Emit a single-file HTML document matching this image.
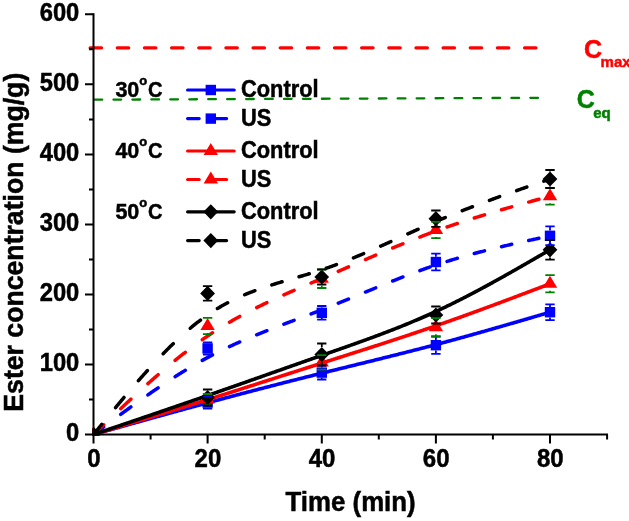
<!DOCTYPE html>
<html><head><meta charset="utf-8"><style>
html,body{margin:0;padding:0;background:#fff;}
svg{display:block;will-change:transform;}
text{font-family:"Liberation Sans",sans-serif;font-weight:bold;fill:#000;stroke:#000;stroke-width:0.5px;}
.tl{font-size:25px;}
.tt{font-size:26px;}
.lg{font-size:22px;}
.deg{font-size:13px;}
.cl{font-size:25px;}
.sub{font-size:15px;}
</style></head><body>
<svg width="629" height="521" viewBox="0 0 629 521">
<line x1="88.6" y1="47.8" x2="537" y2="47.8" stroke="#FF0000" stroke-width="3.2" stroke-linecap="round" stroke-dasharray="11.5 15.65" transform="translate(1.5 0)"/>
<line x1="94.5" y1="99.7" x2="539" y2="97.8" stroke="#008000" stroke-width="2.3" stroke-linecap="round" stroke-dasharray="7.7 11.25"/>
<path d="M93.5,13.3 V435.5 M92.5,434.5 H608" stroke="#000" stroke-width="2" fill="none"/>
<path d="M85.0,434.5 H93.5 M89.0,399.5 H93.5 M85.0,364.5 H93.5 M89.0,329.4 H93.5 M85.0,294.4 H93.5 M89.0,259.4 H93.5 M85.0,224.4 H93.5 M89.0,189.4 H93.5 M85.0,154.4 H93.5 M89.0,119.4 H93.5 M85.0,84.3 H93.5 M89.0,49.3 H93.5 M85.0,14.3 H93.5 M93.5,434.5 V443.5 M150.6,434.5 V439.5 M207.6,434.5 V443.5 M264.7,434.5 V439.5 M321.8,434.5 V443.5 M378.8,434.5 V439.5 M435.9,434.5 V443.5 M492.9,434.5 V439.5 M550.0,434.5 V443.5 M607.1,434.5 V439.5" stroke="#000" stroke-width="2" fill="none"/>
<defs><clipPath id="fr"><rect x="92.5" y="0" width="530" height="435.5"/></clipPath></defs>
<g clip-path="url(#fr)">
<path d="M93.50,434.50 L94.64,434.18 L95.79,433.86 L96.93,433.53 L98.08,433.21 L99.22,432.89 L100.36,432.57 L101.51,432.25 L102.65,431.92 L103.80,431.60 L104.94,431.28 L106.09,430.96 L107.23,430.64 L108.37,430.31 L109.52,429.99 L110.66,429.67 L111.81,429.35 L112.95,429.03 L114.09,428.71 L115.24,428.38 L116.38,428.06 L117.53,427.74 L118.67,427.42 L119.81,427.10 L120.96,426.78 L122.10,426.46 L123.25,426.13 L124.39,425.81 L125.54,425.49 L126.68,425.17 L127.82,424.85 L128.97,424.53 L130.11,424.21 L131.26,423.89 L132.40,423.57 L133.54,423.25 L134.69,422.93 L135.83,422.61 L136.98,422.29 L138.12,421.97 L139.26,421.65 L140.41,421.33 L141.55,421.01 L142.70,420.69 L143.84,420.37 L144.98,420.05 L146.13,419.73 L147.27,419.41 L148.42,419.09 L149.56,418.77 L150.71,418.45 L151.85,418.13 L152.99,417.81 L154.14,417.50 L155.28,417.18 L156.43,416.86 L157.57,416.54 L158.71,416.22 L159.86,415.91 L161.00,415.59 L162.15,415.27 L163.29,414.95 L164.43,414.64 L165.58,414.32 L166.72,414.00 L167.87,413.68 L169.01,413.37 L170.16,413.05 L171.30,412.74 L172.44,412.42 L173.59,412.10 L174.73,411.79 L175.88,411.47 L177.02,411.16 L178.16,410.84 L179.31,410.53 L180.45,410.21 L181.60,409.90 L182.74,409.58 L183.88,409.27 L185.03,408.96 L186.17,408.64 L187.32,408.33 L188.46,408.01 L189.61,407.70 L190.75,407.39 L191.89,407.08 L193.04,406.76 L194.18,406.45 L195.33,406.14 L196.47,405.83 L197.61,405.52 L198.76,405.20 L199.90,404.89 L201.05,404.58 L202.19,404.27 L203.33,403.96 L204.48,403.65 L205.62,403.34 L206.77,403.03 L207.91,402.72 L209.06,402.41 L210.20,402.10 L211.34,401.80 L212.49,401.49 L213.63,401.18 L214.78,400.87 L215.92,400.56 L217.06,400.26 L218.21,399.95 L219.35,399.64 L220.50,399.34 L221.64,399.03 L222.78,398.72 L223.93,398.42 L225.07,398.11 L226.22,397.81 L227.36,397.50 L228.51,397.20 L229.65,396.89 L230.79,396.59 L231.94,396.28 L233.08,395.98 L234.23,395.68 L235.37,395.37 L236.51,395.07 L237.66,394.77 L238.80,394.47 L239.95,394.16 L241.09,393.86 L242.23,393.56 L243.38,393.26 L244.52,392.96 L245.67,392.66 L246.81,392.36 L247.95,392.05 L249.10,391.75 L250.24,391.45 L251.39,391.15 L252.53,390.86 L253.68,390.56 L254.82,390.26 L255.96,389.96 L257.11,389.66 L258.25,389.36 L259.40,389.06 L260.54,388.77 L261.68,388.47 L262.83,388.17 L263.97,387.87 L265.12,387.58 L266.26,387.28 L267.40,386.98 L268.55,386.69 L269.69,386.39 L270.84,386.10 L271.98,385.80 L273.13,385.51 L274.27,385.21 L275.41,384.92 L276.56,384.62 L277.70,384.33 L278.85,384.04 L279.99,383.74 L281.13,383.45 L282.28,383.16 L283.42,382.86 L284.57,382.57 L285.71,382.28 L286.85,381.99 L288.00,381.70 L289.14,381.40 L290.29,381.11 L291.43,380.82 L292.58,380.53 L293.72,380.24 L294.86,379.95 L296.01,379.66 L297.15,379.37 L298.30,379.08 L299.44,378.79 L300.58,378.50 L301.73,378.21 L302.87,377.93 L304.02,377.64 L305.16,377.35 L306.30,377.06 L307.45,376.77 L308.59,376.49 L309.74,376.20 L310.88,375.91 L312.03,375.63 L313.17,375.34 L314.31,375.05 L315.46,374.77 L316.60,374.48 L317.75,374.20 L318.89,373.91 L320.03,373.63 L321.18,373.34 L322.32,373.06 L323.47,372.77 L324.61,372.49 L325.75,372.21 L326.90,371.92 L328.04,371.64 L329.19,371.36 L330.33,371.07 L331.47,370.79 L332.62,370.51 L333.76,370.23 L334.91,369.94 L336.05,369.66 L337.20,369.38 L338.34,369.10 L339.48,368.82 L340.63,368.54 L341.77,368.25 L342.92,367.97 L344.06,367.69 L345.20,367.41 L346.35,367.13 L347.49,366.85 L348.64,366.57 L349.78,366.29 L350.92,366.00 L352.07,365.72 L353.21,365.44 L354.36,365.16 L355.50,364.88 L356.65,364.60 L357.79,364.32 L358.93,364.04 L360.08,363.76 L361.22,363.48 L362.37,363.20 L363.51,362.91 L364.65,362.63 L365.80,362.35 L366.94,362.07 L368.09,361.79 L369.23,361.51 L370.37,361.22 L371.52,360.94 L372.66,360.66 L373.81,360.38 L374.95,360.10 L376.10,359.81 L377.24,359.53 L378.38,359.25 L379.53,358.96 L380.67,358.68 L381.82,358.40 L382.96,358.11 L384.10,357.83 L385.25,357.55 L386.39,357.26 L387.54,356.98 L388.68,356.69 L389.82,356.41 L390.97,356.12 L392.11,355.84 L393.26,355.55 L394.40,355.26 L395.55,354.98 L396.69,354.69 L397.83,354.40 L398.98,354.11 L400.12,353.83 L401.27,353.54 L402.41,353.25 L403.55,352.96 L404.70,352.67 L405.84,352.38 L406.99,352.09 L408.13,351.80 L409.27,351.51 L410.42,351.22 L411.56,350.93 L412.71,350.63 L413.85,350.34 L414.99,350.05 L416.14,349.75 L417.28,349.46 L418.43,349.16 L419.57,348.87 L420.72,348.57 L421.86,348.28 L423.00,347.98 L424.15,347.68 L425.29,347.38 L426.44,347.08 L427.58,346.79 L428.72,346.49 L429.87,346.19 L431.01,345.89 L432.16,345.58 L433.30,345.28 L434.44,344.98 L435.59,344.68 L436.73,344.37 L437.88,344.07 L439.02,343.76 L440.17,343.46 L441.31,343.15 L442.45,342.84 L443.60,342.54 L444.74,342.23 L445.89,341.92 L447.03,341.61 L448.17,341.30 L449.32,340.99 L450.46,340.68 L451.61,340.37 L452.75,340.05 L453.89,339.74 L455.04,339.43 L456.18,339.11 L457.33,338.80 L458.47,338.49 L459.62,338.17 L460.76,337.85 L461.90,337.54 L463.05,337.22 L464.19,336.90 L465.34,336.59 L466.48,336.27 L467.62,335.95 L468.77,335.63 L469.91,335.31 L471.06,334.99 L472.20,334.67 L473.34,334.35 L474.49,334.03 L475.63,333.71 L476.78,333.39 L477.92,333.06 L479.07,332.74 L480.21,332.42 L481.35,332.09 L482.50,331.77 L483.64,331.44 L484.79,331.12 L485.93,330.79 L487.07,330.47 L488.22,330.14 L489.36,329.82 L490.51,329.49 L491.65,329.16 L492.79,328.84 L493.94,328.51 L495.08,328.18 L496.23,327.85 L497.37,327.52 L498.52,327.19 L499.66,326.87 L500.80,326.54 L501.95,326.21 L503.09,325.88 L504.24,325.55 L505.38,325.22 L506.52,324.89 L507.67,324.55 L508.81,324.22 L509.96,323.89 L511.10,323.56 L512.24,323.23 L513.39,322.90 L514.53,322.56 L515.68,322.23 L516.82,321.90 L517.96,321.57 L519.11,321.23 L520.25,320.90 L521.40,320.57 L522.54,320.23 L523.69,319.90 L524.83,319.57 L525.97,319.23 L527.12,318.90 L528.26,318.56 L529.41,318.23 L530.55,317.90 L531.69,317.56 L532.84,317.23 L533.98,316.89 L535.13,316.56 L536.27,316.22 L537.41,315.89 L538.56,315.55 L539.70,315.22 L540.85,314.88 L541.99,314.55 L543.14,314.21 L544.28,313.88 L545.42,313.54 L546.57,313.21 L547.71,312.87 L548.86,312.54 L550.00,312.20" fill="none" stroke="#0000FF" stroke-width="3.6" stroke-linejoin="round" stroke-linecap="round"/>
<rect x="88.3" y="429.3" width="10.4" height="10.4" fill="#0000FF"/>
<rect x="202.4" y="397.3" width="10.4" height="10.4" fill="#0000FF"/>
<rect x="316.6" y="367.4" width="10.4" height="10.4" fill="#0000FF"/>
<rect x="430.7" y="340.0" width="10.4" height="10.4" fill="#0000FF"/>
<rect x="544.8" y="307.0" width="10.4" height="10.4" fill="#0000FF"/>
<path d="M93.50,434.50 L94.43,433.81 L95.35,433.12 L96.28,432.43 L97.21,431.74 L98.14,431.05 L99.06,430.36 L99.99,429.67 L100.92,428.98 L101.85,428.29 L102.77,427.60 L103.70,426.92 M120.70,414.37 L121.63,413.69 L122.55,413.01 L123.48,412.33 L124.41,411.66 L125.34,410.98 L126.26,410.31 L127.19,409.63 L128.12,408.96 L129.05,408.29 L129.97,407.62 L130.90,406.95 M147.90,394.88 L148.83,394.23 L149.75,393.59 L150.68,392.95 L151.61,392.31 L152.54,391.67 L153.46,391.03 L154.39,390.39 L155.32,389.76 L156.25,389.13 L157.17,388.50 L158.10,387.87 M175.10,376.68 L176.03,376.09 L176.95,375.50 L177.88,374.91 L178.81,374.33 L179.74,373.75 L180.66,373.17 L181.59,372.59 L182.52,372.02 L183.45,371.45 L184.37,370.88 L185.30,370.31 M202.30,360.40 L203.23,359.89 L204.15,359.38 L205.08,358.87 L206.01,358.37 L206.94,357.87 L207.86,357.37 L208.79,356.88 L209.72,356.39 L210.65,355.90 L211.57,355.41 L212.50,354.93 M229.50,346.58 L230.43,346.15 L231.35,345.72 L232.28,345.29 L233.21,344.87 L234.14,344.45 L235.06,344.03 L235.99,343.61 L236.92,343.19 L237.85,342.78 L238.77,342.37 L239.70,341.96 M256.70,334.78 L257.63,334.40 L258.55,334.02 L259.48,333.65 L260.41,333.28 L261.34,332.91 L262.26,332.54 L263.19,332.17 L264.12,331.80 L265.05,331.43 L265.97,331.07 L266.90,330.70 M283.90,324.16 L284.83,323.81 L285.75,323.46 L286.68,323.11 L287.61,322.76 L288.54,322.41 L289.46,322.06 L290.39,321.71 L291.32,321.37 L292.25,321.02 L293.17,320.67 L294.10,320.32 M311.10,313.90 L312.03,313.55 L312.95,313.20 L313.88,312.84 L314.81,312.49 L315.74,312.13 L316.66,311.77 L317.59,311.41 L318.52,311.06 L319.45,310.70 L320.37,310.34 L321.30,309.98 M338.30,303.21 L339.23,302.83 L340.15,302.46 L341.08,302.08 L342.01,301.70 L342.94,301.33 L343.86,300.95 L344.79,300.57 L345.72,300.19 L346.65,299.81 L347.57,299.43 L348.50,299.05 M365.50,292.06 L366.43,291.68 L367.35,291.30 L368.28,290.91 L369.21,290.53 L370.14,290.15 L371.06,289.77 L371.99,289.39 L372.92,289.01 L373.85,288.63 L374.77,288.25 L375.70,287.87 M392.70,281.00 L393.63,280.63 L394.55,280.26 L395.48,279.89 L396.41,279.53 L397.34,279.16 L398.26,278.80 L399.19,278.43 L400.12,278.07 L401.05,277.71 L401.97,277.35 L402.90,276.99 M419.90,270.59 L420.83,270.25 L421.75,269.91 L422.68,269.58 L423.61,269.25 L424.54,268.92 L425.46,268.59 L426.39,268.26 L427.32,267.93 L428.25,267.61 L429.17,267.29 L430.10,266.96 M447.10,261.38 L448.03,261.09 L448.95,260.80 L449.88,260.51 L450.81,260.23 L451.74,259.95 L452.66,259.67 L453.59,259.39 L454.52,259.11 L455.45,258.84 L456.37,258.56 L457.30,258.29 M474.30,253.52 L475.23,253.28 L476.15,253.03 L477.08,252.78 L478.01,252.54 L478.94,252.30 L479.86,252.05 L480.79,251.81 L481.72,251.57 L482.65,251.34 L483.57,251.10 L484.50,250.86 M501.50,246.69 L502.43,246.47 L503.35,246.25 L504.28,246.04 L505.21,245.82 L506.14,245.60 L507.06,245.39 L507.99,245.17 L508.92,244.96 L509.85,244.74 L510.77,244.53 L511.70,244.32 M528.70,240.52 L529.63,240.31 L530.55,240.11 L531.48,239.91 L532.41,239.71 L533.34,239.50 L534.26,239.30 L535.19,239.10 L536.12,238.90 L537.05,238.70 L537.97,238.50 L538.90,238.29" fill="none" stroke="#0000FF" stroke-width="3.5" stroke-linecap="round" stroke-linejoin="round"/>
<rect x="88.3" y="429.3" width="10.4" height="10.4" fill="#0000FF"/>
<rect x="202.4" y="343.2" width="10.4" height="10.4" fill="#0000FF"/>
<rect x="316.6" y="307.6" width="10.4" height="10.4" fill="#0000FF"/>
<rect x="430.7" y="256.8" width="10.4" height="10.4" fill="#0000FF"/>
<rect x="544.8" y="230.6" width="10.4" height="10.4" fill="#0000FF"/>
<path d="M93.50,434.50 L94.64,434.15 L95.79,433.81 L96.93,433.46 L98.08,433.12 L99.22,432.77 L100.36,432.43 L101.51,432.08 L102.65,431.74 L103.80,431.39 L104.94,431.05 L106.09,430.70 L107.23,430.36 L108.37,430.01 L109.52,429.66 L110.66,429.32 L111.81,428.97 L112.95,428.63 L114.09,428.28 L115.24,427.94 L116.38,427.59 L117.53,427.24 L118.67,426.90 L119.81,426.55 L120.96,426.21 L122.10,425.86 L123.25,425.51 L124.39,425.17 L125.54,424.82 L126.68,424.47 L127.82,424.13 L128.97,423.78 L130.11,423.44 L131.26,423.09 L132.40,422.74 L133.54,422.39 L134.69,422.05 L135.83,421.70 L136.98,421.35 L138.12,421.01 L139.26,420.66 L140.41,420.31 L141.55,419.96 L142.70,419.62 L143.84,419.27 L144.98,418.92 L146.13,418.57 L147.27,418.22 L148.42,417.87 L149.56,417.53 L150.71,417.18 L151.85,416.83 L152.99,416.48 L154.14,416.13 L155.28,415.78 L156.43,415.43 L157.57,415.08 L158.71,414.73 L159.86,414.38 L161.00,414.03 L162.15,413.68 L163.29,413.33 L164.43,412.98 L165.58,412.63 L166.72,412.28 L167.87,411.93 L169.01,411.58 L170.16,411.23 L171.30,410.87 L172.44,410.52 L173.59,410.17 L174.73,409.82 L175.88,409.47 L177.02,409.11 L178.16,408.76 L179.31,408.41 L180.45,408.06 L181.60,407.70 L182.74,407.35 L183.88,406.99 L185.03,406.64 L186.17,406.29 L187.32,405.93 L188.46,405.58 L189.61,405.22 L190.75,404.87 L191.89,404.51 L193.04,404.16 L194.18,403.80 L195.33,403.44 L196.47,403.09 L197.61,402.73 L198.76,402.37 L199.90,402.02 L201.05,401.66 L202.19,401.30 L203.33,400.94 L204.48,400.59 L205.62,400.23 L206.77,399.87 L207.91,399.51 L209.06,399.15 L210.20,398.79 L211.34,398.43 L212.49,398.07 L213.63,397.71 L214.78,397.35 L215.92,396.99 L217.06,396.63 L218.21,396.27 L219.35,395.91 L220.50,395.54 L221.64,395.18 L222.78,394.82 L223.93,394.46 L225.07,394.10 L226.22,393.73 L227.36,393.37 L228.51,393.01 L229.65,392.64 L230.79,392.28 L231.94,391.92 L233.08,391.55 L234.23,391.19 L235.37,390.82 L236.51,390.46 L237.66,390.09 L238.80,389.73 L239.95,389.36 L241.09,389.00 L242.23,388.63 L243.38,388.27 L244.52,387.90 L245.67,387.54 L246.81,387.17 L247.95,386.80 L249.10,386.44 L250.24,386.07 L251.39,385.71 L252.53,385.34 L253.68,384.97 L254.82,384.61 L255.96,384.24 L257.11,383.87 L258.25,383.50 L259.40,383.14 L260.54,382.77 L261.68,382.40 L262.83,382.03 L263.97,381.67 L265.12,381.30 L266.26,380.93 L267.40,380.56 L268.55,380.20 L269.69,379.83 L270.84,379.46 L271.98,379.09 L273.13,378.72 L274.27,378.36 L275.41,377.99 L276.56,377.62 L277.70,377.25 L278.85,376.88 L279.99,376.52 L281.13,376.15 L282.28,375.78 L283.42,375.41 L284.57,375.04 L285.71,374.68 L286.85,374.31 L288.00,373.94 L289.14,373.57 L290.29,373.20 L291.43,372.83 L292.58,372.47 L293.72,372.10 L294.86,371.73 L296.01,371.36 L297.15,370.99 L298.30,370.63 L299.44,370.26 L300.58,369.89 L301.73,369.52 L302.87,369.15 L304.02,368.79 L305.16,368.42 L306.30,368.05 L307.45,367.68 L308.59,367.32 L309.74,366.95 L310.88,366.58 L312.03,366.22 L313.17,365.85 L314.31,365.48 L315.46,365.12 L316.60,364.75 L317.75,364.38 L318.89,364.02 L320.03,363.65 L321.18,363.28 L322.32,362.92 L323.47,362.55 L324.61,362.19 L325.75,361.82 L326.90,361.45 L328.04,361.09 L329.19,360.72 L330.33,360.36 L331.47,359.99 L332.62,359.63 L333.76,359.26 L334.91,358.90 L336.05,358.53 L337.20,358.17 L338.34,357.80 L339.48,357.44 L340.63,357.07 L341.77,356.71 L342.92,356.34 L344.06,355.98 L345.20,355.61 L346.35,355.25 L347.49,354.88 L348.64,354.52 L349.78,354.15 L350.92,353.79 L352.07,353.42 L353.21,353.05 L354.36,352.69 L355.50,352.32 L356.65,351.96 L357.79,351.59 L358.93,351.22 L360.08,350.86 L361.22,350.49 L362.37,350.12 L363.51,349.76 L364.65,349.39 L365.80,349.02 L366.94,348.66 L368.09,348.29 L369.23,347.92 L370.37,347.55 L371.52,347.18 L372.66,346.81 L373.81,346.45 L374.95,346.08 L376.10,345.71 L377.24,345.34 L378.38,344.97 L379.53,344.60 L380.67,344.23 L381.82,343.86 L382.96,343.48 L384.10,343.11 L385.25,342.74 L386.39,342.37 L387.54,342.00 L388.68,341.62 L389.82,341.25 L390.97,340.88 L392.11,340.50 L393.26,340.13 L394.40,339.75 L395.55,339.38 L396.69,339.00 L397.83,338.62 L398.98,338.25 L400.12,337.87 L401.27,337.49 L402.41,337.11 L403.55,336.73 L404.70,336.36 L405.84,335.98 L406.99,335.60 L408.13,335.22 L409.27,334.83 L410.42,334.45 L411.56,334.07 L412.71,333.69 L413.85,333.30 L414.99,332.92 L416.14,332.53 L417.28,332.15 L418.43,331.76 L419.57,331.38 L420.72,330.99 L421.86,330.60 L423.00,330.21 L424.15,329.83 L425.29,329.44 L426.44,329.05 L427.58,328.65 L428.72,328.26 L429.87,327.87 L431.01,327.48 L432.16,327.08 L433.30,326.69 L434.44,326.29 L435.59,325.90 L436.73,325.50 L437.88,325.11 L439.02,324.71 L440.17,324.31 L441.31,323.91 L442.45,323.51 L443.60,323.11 L444.74,322.71 L445.89,322.30 L447.03,321.90 L448.17,321.50 L449.32,321.09 L450.46,320.69 L451.61,320.28 L452.75,319.88 L453.89,319.47 L455.04,319.06 L456.18,318.65 L457.33,318.25 L458.47,317.84 L459.62,317.43 L460.76,317.02 L461.90,316.60 L463.05,316.19 L464.19,315.78 L465.34,315.37 L466.48,314.96 L467.62,314.54 L468.77,314.13 L469.91,313.71 L471.06,313.30 L472.20,312.88 L473.34,312.46 L474.49,312.05 L475.63,311.63 L476.78,311.21 L477.92,310.79 L479.07,310.37 L480.21,309.96 L481.35,309.54 L482.50,309.12 L483.64,308.69 L484.79,308.27 L485.93,307.85 L487.07,307.43 L488.22,307.01 L489.36,306.58 L490.51,306.16 L491.65,305.74 L492.79,305.31 L493.94,304.89 L495.08,304.47 L496.23,304.04 L497.37,303.62 L498.52,303.19 L499.66,302.76 L500.80,302.34 L501.95,301.91 L503.09,301.48 L504.24,301.06 L505.38,300.63 L506.52,300.20 L507.67,299.77 L508.81,299.34 L509.96,298.92 L511.10,298.49 L512.24,298.06 L513.39,297.63 L514.53,297.20 L515.68,296.77 L516.82,296.34 L517.96,295.91 L519.11,295.48 L520.25,295.05 L521.40,294.62 L522.54,294.18 L523.69,293.75 L524.83,293.32 L525.97,292.89 L527.12,292.46 L528.26,292.03 L529.41,291.59 L530.55,291.16 L531.69,290.73 L532.84,290.30 L533.98,289.86 L535.13,289.43 L536.27,289.00 L537.41,288.57 L538.56,288.13 L539.70,287.70 L540.85,287.27 L541.99,286.83 L543.14,286.40 L544.28,285.97 L545.42,285.53 L546.57,285.10 L547.71,284.67 L548.86,284.23 L550.00,283.80" fill="none" stroke="#FF0000" stroke-width="3.6" stroke-linejoin="round" stroke-linecap="round"/>
<polygon points="93.5,426.5 100.7,438.5 86.3,438.5" fill="#FF0000"/>
<polygon points="207.6,391.5 214.8,403.5 200.4,403.5" fill="#FF0000"/>
<polygon points="321.8,354.4 328.9,366.4 314.6,366.4" fill="#FF0000"/>
<polygon points="435.9,319.3 443.1,331.3 428.7,331.3" fill="#FF0000"/>
<polygon points="550.0,275.8 557.2,287.8 542.8,287.8" fill="#FF0000"/>
<path d="M93.50,434.50 L94.43,433.61 L95.35,432.73 L96.28,431.84 L97.21,430.96 L98.14,430.07 L99.06,429.19 L99.99,428.30 L100.92,427.42 L101.85,426.53 L102.77,425.65 L103.70,424.77 M120.70,408.66 L121.63,407.79 L122.55,406.92 L123.48,406.06 L124.41,405.19 L125.34,404.32 L126.26,403.46 L127.19,402.59 L128.12,401.73 L129.05,400.87 L129.97,400.01 L130.90,399.15 M147.90,383.68 L148.83,382.86 L149.75,382.03 L150.68,381.21 L151.61,380.39 L152.54,379.57 L153.46,378.75 L154.39,377.94 L155.32,377.13 L156.25,376.32 L157.17,375.51 L158.10,374.71 M175.10,360.40 L176.03,359.65 L176.95,358.90 L177.88,358.15 L178.81,357.41 L179.74,356.67 L180.66,355.93 L181.59,355.20 L182.52,354.46 L183.45,353.74 L184.37,353.01 L185.30,352.29 M202.30,339.68 L203.23,339.03 L204.15,338.39 L205.08,337.74 L206.01,337.10 L206.94,336.47 L207.86,335.84 L208.79,335.21 L209.72,334.59 L210.65,333.97 L211.57,333.36 L212.50,332.75 M229.50,322.22 L230.43,321.68 L231.35,321.14 L232.28,320.61 L233.21,320.08 L234.14,319.55 L235.06,319.02 L235.99,318.50 L236.92,317.99 L237.85,317.47 L238.77,316.96 L239.70,316.45 M256.70,307.58 L257.63,307.12 L258.55,306.66 L259.48,306.20 L260.41,305.75 L261.34,305.30 L262.26,304.85 L263.19,304.40 L264.12,303.95 L265.05,303.51 L265.97,303.07 L266.90,302.63 M283.90,294.83 L284.83,294.42 L285.75,294.01 L286.68,293.60 L287.61,293.19 L288.54,292.78 L289.46,292.38 L290.39,291.97 L291.32,291.56 L292.25,291.16 L293.17,290.76 L294.10,290.35 M311.10,283.05 L312.03,282.66 L312.95,282.26 L313.88,281.87 L314.81,281.47 L315.74,281.07 L316.66,280.68 L317.59,280.28 L318.52,279.88 L319.45,279.49 L320.37,279.09 L321.30,278.69 M338.30,271.35 L339.23,270.95 L340.15,270.55 L341.08,270.14 L342.01,269.74 L342.94,269.34 L343.86,268.93 L344.79,268.53 L345.72,268.13 L346.65,267.73 L347.57,267.32 L348.50,266.92 M365.50,259.55 L366.43,259.15 L367.35,258.75 L368.28,258.35 L369.21,257.95 L370.14,257.55 L371.06,257.15 L371.99,256.75 L372.92,256.35 L373.85,255.96 L374.77,255.56 L375.70,255.16 M392.70,247.98 L393.63,247.60 L394.55,247.21 L395.48,246.83 L396.41,246.44 L397.34,246.06 L398.26,245.68 L399.19,245.30 L400.12,244.92 L401.05,244.54 L401.97,244.16 L402.90,243.78 M419.90,237.02 L420.83,236.66 L421.75,236.30 L422.68,235.94 L423.61,235.59 L424.54,235.23 L425.46,234.88 L426.39,234.53 L427.32,234.18 L428.25,233.83 L429.17,233.48 L430.10,233.13 M447.10,227.00 L448.03,226.68 L448.95,226.36 L449.88,226.04 L450.81,225.72 L451.74,225.40 L452.66,225.09 L453.59,224.77 L454.52,224.46 L455.45,224.14 L456.37,223.83 L457.30,223.52 M474.30,218.01 L475.23,217.72 L476.15,217.43 L477.08,217.14 L478.01,216.85 L478.94,216.57 L479.86,216.28 L480.79,215.99 L481.72,215.71 L482.65,215.42 L483.57,215.14 L484.50,214.86 M501.50,209.80 L502.43,209.53 L503.35,209.26 L504.28,208.99 L505.21,208.72 L506.14,208.46 L507.06,208.19 L507.99,207.92 L508.92,207.66 L509.85,207.39 L510.77,207.12 L511.70,206.86 M528.70,202.08 L529.63,201.82 L530.55,201.56 L531.48,201.31 L532.41,201.05 L533.34,200.79 L534.26,200.54 L535.19,200.28 L536.12,200.02 L537.05,199.77 L537.97,199.51 L538.90,199.26" fill="none" stroke="#FF0000" stroke-width="3.5" stroke-linecap="round" stroke-linejoin="round"/>
<polygon points="93.5,426.5 100.7,438.5 86.3,438.5" fill="#FF0000"/>
<polygon points="207.6,318.0 214.8,330.0 200.4,330.0" fill="#FF0000"/>
<polygon points="321.8,270.7 328.9,282.7 314.6,282.7" fill="#FF0000"/>
<polygon points="435.9,222.0 443.1,234.0 428.7,234.0" fill="#FF0000"/>
<polygon points="550.0,188.2 557.2,200.2 542.8,200.2" fill="#FF0000"/>
<path d="M93.50,434.50 L94.64,434.11 L95.79,433.72 L96.93,433.34 L98.08,432.95 L99.22,432.56 L100.36,432.17 L101.51,431.79 L102.65,431.40 L103.80,431.01 L104.94,430.62 L106.09,430.24 L107.23,429.85 L108.37,429.46 L109.52,429.07 L110.66,428.69 L111.81,428.30 L112.95,427.91 L114.09,427.52 L115.24,427.13 L116.38,426.75 L117.53,426.36 L118.67,425.97 L119.81,425.58 L120.96,425.19 L122.10,424.81 L123.25,424.42 L124.39,424.03 L125.54,423.64 L126.68,423.25 L127.82,422.86 L128.97,422.48 L130.11,422.09 L131.26,421.70 L132.40,421.31 L133.54,420.92 L134.69,420.53 L135.83,420.14 L136.98,419.75 L138.12,419.36 L139.26,418.98 L140.41,418.59 L141.55,418.20 L142.70,417.81 L143.84,417.42 L144.98,417.03 L146.13,416.64 L147.27,416.25 L148.42,415.86 L149.56,415.47 L150.71,415.08 L151.85,414.69 L152.99,414.30 L154.14,413.91 L155.28,413.52 L156.43,413.13 L157.57,412.74 L158.71,412.35 L159.86,411.95 L161.00,411.56 L162.15,411.17 L163.29,410.78 L164.43,410.39 L165.58,410.00 L166.72,409.61 L167.87,409.21 L169.01,408.82 L170.16,408.43 L171.30,408.04 L172.44,407.65 L173.59,407.25 L174.73,406.86 L175.88,406.47 L177.02,406.07 L178.16,405.68 L179.31,405.29 L180.45,404.89 L181.60,404.50 L182.74,404.11 L183.88,403.71 L185.03,403.32 L186.17,402.93 L187.32,402.53 L188.46,402.14 L189.61,401.74 L190.75,401.35 L191.89,400.95 L193.04,400.56 L194.18,400.16 L195.33,399.77 L196.47,399.37 L197.61,398.97 L198.76,398.58 L199.90,398.18 L201.05,397.78 L202.19,397.39 L203.33,396.99 L204.48,396.59 L205.62,396.20 L206.77,395.80 L207.91,395.40 L209.06,395.00 L210.20,394.60 L211.34,394.21 L212.49,393.81 L213.63,393.41 L214.78,393.01 L215.92,392.61 L217.06,392.21 L218.21,391.81 L219.35,391.41 L220.50,391.01 L221.64,390.61 L222.78,390.21 L223.93,389.81 L225.07,389.41 L226.22,389.01 L227.36,388.61 L228.51,388.21 L229.65,387.81 L230.79,387.41 L231.94,387.01 L233.08,386.60 L234.23,386.20 L235.37,385.80 L236.51,385.40 L237.66,385.00 L238.80,384.60 L239.95,384.19 L241.09,383.79 L242.23,383.39 L243.38,382.99 L244.52,382.58 L245.67,382.18 L246.81,381.78 L247.95,381.38 L249.10,380.97 L250.24,380.57 L251.39,380.17 L252.53,379.76 L253.68,379.36 L254.82,378.96 L255.96,378.55 L257.11,378.15 L258.25,377.75 L259.40,377.34 L260.54,376.94 L261.68,376.54 L262.83,376.13 L263.97,375.73 L265.12,375.33 L266.26,374.92 L267.40,374.52 L268.55,374.12 L269.69,373.71 L270.84,373.31 L271.98,372.91 L273.13,372.50 L274.27,372.10 L275.41,371.70 L276.56,371.29 L277.70,370.89 L278.85,370.48 L279.99,370.08 L281.13,369.68 L282.28,369.27 L283.42,368.87 L284.57,368.47 L285.71,368.06 L286.85,367.66 L288.00,367.26 L289.14,366.85 L290.29,366.45 L291.43,366.05 L292.58,365.64 L293.72,365.24 L294.86,364.84 L296.01,364.44 L297.15,364.03 L298.30,363.63 L299.44,363.23 L300.58,362.83 L301.73,362.42 L302.87,362.02 L304.02,361.62 L305.16,361.22 L306.30,360.81 L307.45,360.41 L308.59,360.01 L309.74,359.61 L310.88,359.21 L312.03,358.81 L313.17,358.41 L314.31,358.00 L315.46,357.60 L316.60,357.20 L317.75,356.80 L318.89,356.40 L320.03,356.00 L321.18,355.60 L322.32,355.20 L323.47,354.80 L324.61,354.40 L325.75,354.00 L326.90,353.60 L328.04,353.20 L329.19,352.80 L330.33,352.40 L331.47,352.00 L332.62,351.60 L333.76,351.20 L334.91,350.80 L336.05,350.40 L337.20,350.00 L338.34,349.60 L339.48,349.20 L340.63,348.80 L341.77,348.40 L342.92,347.99 L344.06,347.59 L345.20,347.19 L346.35,346.79 L347.49,346.38 L348.64,345.98 L349.78,345.57 L350.92,345.17 L352.07,344.76 L353.21,344.36 L354.36,343.95 L355.50,343.54 L356.65,343.13 L357.79,342.72 L358.93,342.31 L360.08,341.90 L361.22,341.49 L362.37,341.08 L363.51,340.67 L364.65,340.25 L365.80,339.84 L366.94,339.42 L368.09,339.01 L369.23,338.59 L370.37,338.17 L371.52,337.75 L372.66,337.33 L373.81,336.91 L374.95,336.48 L376.10,336.06 L377.24,335.63 L378.38,335.20 L379.53,334.78 L380.67,334.35 L381.82,333.92 L382.96,333.48 L384.10,333.05 L385.25,332.62 L386.39,332.18 L387.54,331.74 L388.68,331.30 L389.82,330.86 L390.97,330.42 L392.11,329.97 L393.26,329.53 L394.40,329.08 L395.55,328.63 L396.69,328.18 L397.83,327.73 L398.98,327.27 L400.12,326.82 L401.27,326.36 L402.41,325.90 L403.55,325.44 L404.70,324.97 L405.84,324.51 L406.99,324.04 L408.13,323.57 L409.27,323.10 L410.42,322.63 L411.56,322.15 L412.71,321.67 L413.85,321.19 L414.99,320.71 L416.14,320.23 L417.28,319.74 L418.43,319.25 L419.57,318.76 L420.72,318.27 L421.86,317.77 L423.00,317.27 L424.15,316.77 L425.29,316.27 L426.44,315.77 L427.58,315.26 L428.72,314.75 L429.87,314.24 L431.01,313.72 L432.16,313.20 L433.30,312.68 L434.44,312.16 L435.59,311.63 L436.73,311.10 L437.88,310.57 L439.02,310.04 L440.17,309.50 L441.31,308.96 L442.45,308.42 L443.60,307.88 L444.74,307.33 L445.89,306.78 L447.03,306.23 L448.17,305.67 L449.32,305.12 L450.46,304.56 L451.61,303.99 L452.75,303.43 L453.89,302.86 L455.04,302.30 L456.18,301.72 L457.33,301.15 L458.47,300.58 L459.62,300.00 L460.76,299.42 L461.90,298.84 L463.05,298.25 L464.19,297.67 L465.34,297.08 L466.48,296.49 L467.62,295.90 L468.77,295.30 L469.91,294.71 L471.06,294.11 L472.20,293.51 L473.34,292.91 L474.49,292.30 L475.63,291.70 L476.78,291.09 L477.92,290.48 L479.07,289.87 L480.21,289.26 L481.35,288.65 L482.50,288.03 L483.64,287.41 L484.79,286.80 L485.93,286.17 L487.07,285.55 L488.22,284.93 L489.36,284.31 L490.51,283.68 L491.65,283.05 L492.79,282.42 L493.94,281.79 L495.08,281.16 L496.23,280.53 L497.37,279.89 L498.52,279.26 L499.66,278.62 L500.80,277.98 L501.95,277.34 L503.09,276.70 L504.24,276.06 L505.38,275.42 L506.52,274.78 L507.67,274.13 L508.81,273.49 L509.96,272.84 L511.10,272.19 L512.24,271.54 L513.39,270.89 L514.53,270.24 L515.68,269.59 L516.82,268.94 L517.96,268.29 L519.11,267.63 L520.25,266.98 L521.40,266.32 L522.54,265.67 L523.69,265.01 L524.83,264.36 L525.97,263.70 L527.12,263.04 L528.26,262.38 L529.41,261.72 L530.55,261.06 L531.69,260.40 L532.84,259.74 L533.98,259.08 L535.13,258.42 L536.27,257.76 L537.41,257.10 L538.56,256.43 L539.70,255.77 L540.85,255.11 L541.99,254.45 L543.14,253.78 L544.28,253.12 L545.42,252.45 L546.57,251.79 L547.71,251.13 L548.86,250.46 L550.00,249.80" fill="none" stroke="#000000" stroke-width="3.6" stroke-linejoin="round" stroke-linecap="round"/>
<polygon points="93.5,426.9 100.9,434.5 93.5,442.1 86.1,434.5" fill="#000000"/>
<polygon points="207.6,389.9 215.0,397.5 207.6,405.1 200.2,397.5" fill="#000000"/>
<polygon points="321.8,346.9 329.1,354.5 321.8,362.1 314.4,354.5" fill="#000000"/>
<polygon points="435.9,307.4 443.3,315.0 435.9,322.6 428.5,315.0" fill="#000000"/>
<polygon points="550.0,242.2 557.4,249.8 550.0,257.4 542.6,249.8" fill="#000000"/>
<path d="M93.50,434.50 L94.25,433.58 L95.00,432.66 L95.75,431.75 L96.50,430.83 L97.25,429.91 L98.00,428.99 L98.74,428.07 L99.49,427.16 L100.24,426.24 L100.99,425.32 L101.75,424.40 M115.59,407.57 L116.35,406.65 L117.12,405.73 L117.88,404.82 L118.64,403.90 L119.41,402.98 L120.18,402.06 L120.94,401.14 L121.71,400.22 L122.48,399.31 L123.25,398.39 L124.03,397.47 M138.45,380.64 L139.26,379.72 L140.06,378.80 L140.87,377.88 L141.68,376.97 L142.50,376.05 L143.31,375.13 L144.13,374.21 L144.95,373.29 L145.77,372.38 L146.60,371.46 L147.43,370.54 M163.18,353.71 L164.08,352.79 L164.98,351.87 L165.88,350.95 L166.79,350.04 L167.71,349.12 L168.63,348.20 L169.55,347.28 L170.48,346.37 L171.41,345.46 L172.34,344.55 L173.26,343.66 M190.26,328.26 L191.19,327.48 L192.12,326.71 L193.05,325.95 L193.97,325.19 L194.90,324.44 L195.83,323.70 L196.75,322.96 L197.68,322.23 L198.61,321.51 L199.54,320.80 L200.46,320.09 M217.46,308.52 L218.39,307.96 L219.32,307.41 L220.25,306.87 L221.17,306.33 L222.10,305.80 L223.03,305.28 L223.95,304.76 L224.88,304.25 L225.81,303.74 L226.74,303.25 L227.66,302.76 M244.66,294.74 L245.59,294.35 L246.52,293.97 L247.45,293.59 L248.37,293.22 L249.30,292.85 L250.23,292.48 L251.15,292.12 L252.08,291.76 L253.01,291.41 L253.94,291.05 L254.86,290.71 M271.86,284.90 L272.79,284.61 L273.72,284.31 L274.65,284.03 L275.57,283.74 L276.50,283.45 L277.43,283.17 L278.35,282.89 L279.28,282.61 L280.21,282.33 L281.14,282.05 L282.06,281.77 M299.06,276.80 L299.99,276.53 L300.92,276.26 L301.85,275.98 L302.77,275.71 L303.70,275.44 L304.63,275.16 L305.55,274.88 L306.48,274.61 L307.41,274.33 L308.34,274.05 L309.26,273.77 M326.26,268.26 L327.19,267.94 L328.12,267.61 L329.05,267.28 L329.97,266.95 L330.90,266.62 L331.83,266.29 L332.75,265.95 L333.68,265.61 L334.61,265.27 L335.54,264.92 L336.46,264.58 M353.46,257.88 L354.39,257.50 L355.32,257.11 L356.25,256.73 L357.17,256.34 L358.10,255.95 L359.03,255.56 L359.95,255.17 L360.88,254.78 L361.81,254.39 L362.74,253.99 L363.66,253.60 M380.66,246.15 L381.59,245.74 L382.52,245.32 L383.45,244.91 L384.37,244.49 L385.30,244.08 L386.23,243.66 L387.15,243.24 L388.08,242.83 L389.01,242.41 L389.94,241.99 L390.86,241.57 M407.86,233.88 L408.79,233.46 L409.72,233.04 L410.65,232.62 L411.57,232.20 L412.50,231.79 L413.43,231.37 L414.35,230.95 L415.28,230.54 L416.21,230.12 L417.14,229.71 L418.06,229.29 M435.06,221.85 L435.99,221.45 L436.92,221.06 L437.85,220.66 L438.77,220.27 L439.70,219.88 L440.63,219.49 L441.55,219.10 L442.48,218.71 L443.41,218.32 L444.34,217.94 L445.26,217.55 M462.26,210.69 L463.19,210.33 L464.12,209.97 L465.05,209.60 L465.97,209.24 L466.90,208.88 L467.83,208.52 L468.75,208.16 L469.68,207.80 L470.61,207.45 L471.54,207.09 L472.46,206.74 M489.46,200.36 L490.39,200.02 L491.32,199.68 L492.25,199.34 L493.17,199.00 L494.10,198.66 L495.03,198.32 L495.95,197.98 L496.88,197.65 L497.81,197.31 L498.74,196.97 L499.66,196.64 M516.66,190.58 L517.59,190.26 L518.52,189.93 L519.45,189.60 L520.37,189.28 L521.30,188.95 L522.23,188.63 L523.15,188.31 L524.08,187.98 L525.01,187.66 L525.94,187.33 L526.86,187.01 M543.86,181.12 L544.42,180.93 L544.98,180.73 L545.54,180.54 L546.09,180.35 L546.65,180.16 L547.21,179.96 L547.77,179.77 L548.33,179.58 L548.88,179.39 L549.44,179.19 L550.00,179.00" fill="none" stroke="#000000" stroke-width="3.5" stroke-linecap="round" stroke-linejoin="round"/>
<polygon points="93.5,426.9 100.9,434.5 93.5,442.1 86.1,434.5" fill="#000000"/>
<polygon points="207.6,285.8 215.0,293.4 207.6,301.0 200.2,293.4" fill="#000000"/>
<polygon points="321.8,269.4 329.1,277.0 321.8,284.6 314.4,277.0" fill="#000000"/>
<polygon points="435.9,211.1 443.3,218.7 435.9,226.3 428.5,218.7" fill="#000000"/>
<polygon points="550.0,171.4 557.4,179.0 550.0,186.6 542.6,179.0" fill="#000000"/>
<path d="M202.9,396.5 H212.3 M202.9,408.5 H212.3 M207.6,396.5 V397.3 M207.6,408.5 V407.7" stroke="#0000FF" stroke-width="1.8" fill="none"/>
<path d="M317.1,365.7 H326.4 M317.1,379.5 H326.4 M321.8,365.7 V367.4 M321.8,379.5 V377.8" stroke="#0000FF" stroke-width="1.8" fill="none"/>
<path d="M431.2,336.5 H440.6 M431.2,353.9 H440.6 M435.9,336.5 V340.0 M435.9,353.9 V350.4" stroke="#0000FF" stroke-width="1.8" fill="none"/>
<path d="M545.3,304.3 H554.7 M545.3,320.1 H554.7 M550.0,304.3 V307.0 M550.0,320.1 V317.4" stroke="#0000FF" stroke-width="1.8" fill="none"/>
<path d="M202.9,394.0 H212.3 M202.9,405.0 H212.3" stroke="#008000" stroke-width="1.8" fill="none"/>
<path d="M317.1,355.2 H326.4 M317.1,369.6 H326.4 M321.8,369.6 V369.4" stroke="#008000" stroke-width="1.8" fill="none"/>
<path d="M431.2,318.1 H440.6 M431.2,336.5 H440.6 M435.9,318.1 V319.5 M435.9,336.5 V334.3" stroke="#008000" stroke-width="1.8" fill="none"/>
<path d="M545.3,275.2 H554.7 M545.3,292.4 H554.7 M550.0,275.2 V276.0 M550.0,292.4 V290.8" stroke="#008000" stroke-width="1.8" fill="none"/>
<path d="M202.9,389.5 H212.3 M202.9,405.5 H212.3 M207.6,389.5 V389.9 M207.6,405.5 V405.1" stroke="#000000" stroke-width="1.8" fill="none"/>
<path d="M317.1,343.5 H326.4 M317.1,365.5 H326.4 M321.8,343.5 V346.9 M321.8,365.5 V362.1" stroke="#000000" stroke-width="1.8" fill="none"/>
<path d="M431.2,306.5 H440.6 M431.2,323.5 H440.6 M435.9,306.5 V307.4 M435.9,323.5 V322.6" stroke="#000000" stroke-width="1.8" fill="none"/>
<path d="M545.3,239.9 H554.7 M545.3,259.7 H554.7 M550.0,239.9 V242.2 M550.0,259.7 V257.4" stroke="#000000" stroke-width="1.8" fill="none"/>
<path d="M202.9,342.3 H212.3 M202.9,354.5 H212.3 M207.6,342.3 V343.2 M207.6,354.5 V353.6" stroke="#0000FF" stroke-width="1.8" fill="none"/>
<path d="M317.1,306.0 H326.4 M317.1,319.6 H326.4 M321.8,306.0 V307.6 M321.8,319.6 V318.0" stroke="#0000FF" stroke-width="1.8" fill="none"/>
<path d="M431.2,253.6 H440.6 M431.2,270.4 H440.6 M435.9,253.6 V256.8 M435.9,270.4 V267.2" stroke="#0000FF" stroke-width="1.8" fill="none"/>
<path d="M545.3,226.4 H554.7 M545.3,245.2 H554.7 M550.0,226.4 V230.6 M550.0,245.2 V241.0" stroke="#0000FF" stroke-width="1.8" fill="none"/>
<path d="M202.9,317.8 H212.3 M202.9,334.2 H212.3 M207.6,317.8 V318.2 M207.6,334.2 V333.0" stroke="#008000" stroke-width="1.8" fill="none"/>
<path d="M317.1,269.4 H326.4 M317.1,288.0 H326.4 M321.8,269.4 V270.9 M321.8,288.0 V285.7" stroke="#008000" stroke-width="1.8" fill="none"/>
<path d="M431.2,221.8 H440.6 M431.2,238.2 H440.6 M435.9,221.8 V222.2 M435.9,238.2 V237.0" stroke="#008000" stroke-width="1.8" fill="none"/>
<path d="M545.3,187.8 H554.7 M545.3,204.6 H554.7 M550.0,187.8 V188.4 M550.0,204.6 V203.2" stroke="#008000" stroke-width="1.8" fill="none"/>
<path d="M202.9,286.1 H212.3 M202.9,300.7 H212.3" stroke="#000000" stroke-width="1.8" fill="none"/>
<path d="M317.1,269.5 H326.4 M317.1,284.5 H326.4" stroke="#000000" stroke-width="1.8" fill="none"/>
<path d="M431.2,210.5 H440.6 M431.2,226.9 H440.6 M435.9,210.5 V211.1 M435.9,226.9 V226.3" stroke="#000000" stroke-width="1.8" fill="none"/>
<path d="M545.3,170.0 H554.7 M545.3,188.0 H554.7 M550.0,170.0 V171.4 M550.0,188.0 V186.6" stroke="#000000" stroke-width="1.8" fill="none"/>
</g>
<text transform="translate(79.3 441.2) scale(0.95 1)" text-anchor="end" class="tl">0</text>
<text transform="translate(79.3 371.2) scale(0.95 1)" text-anchor="end" class="tl">100</text>
<text transform="translate(79.3 301.1) scale(0.95 1)" text-anchor="end" class="tl">200</text>
<text transform="translate(79.3 231.1) scale(0.95 1)" text-anchor="end" class="tl">300</text>
<text transform="translate(79.3 161.1) scale(0.95 1)" text-anchor="end" class="tl">400</text>
<text transform="translate(79.3 91.0) scale(0.95 1)" text-anchor="end" class="tl">500</text>
<text transform="translate(79.3 21.0) scale(0.95 1)" text-anchor="end" class="tl">600</text>
<text transform="translate(93.8 466.8) scale(0.96 1)" text-anchor="middle" class="tl">0</text>
<text transform="translate(207.9 466.8) scale(0.96 1)" text-anchor="middle" class="tl">20</text>
<text transform="translate(322.1 466.8) scale(0.96 1)" text-anchor="middle" class="tl">40</text>
<text transform="translate(436.2 466.8) scale(0.96 1)" text-anchor="middle" class="tl">60</text>
<text transform="translate(550.3 466.8) scale(0.96 1)" text-anchor="middle" class="tl">80</text>
<text transform="translate(350.6 510.8) scale(0.957 1)" text-anchor="middle" class="tt" style="font-size:27px">Time (min)</text>
<text transform="translate(23.4 242.2) rotate(-90) scale(0.987 1)" text-anchor="middle" class="tt" style="font-size:27px">Ester concentration (mg/g)</text>
<text x="584" y="57.8" class="cl" style="fill:#FF0000;stroke:#FF0000">C<tspan class="sub" dy="9.3" dx="-1.5">max</tspan></text>
<text x="576.7" y="107.8" class="cl" style="fill:#008000;stroke:#008000">C<tspan class="sub" dy="10.3" dx="-1.5">eq</tspan></text>
<path d="M187.6,90.0 H234.2" stroke="#0000FF" stroke-width="3.2" stroke-linecap="round"/>
<rect x="205.6" y="84.8" width="10.4" height="10.4" fill="#0000FF"/>
<text transform="translate(241.0 97.0) scale(0.95 1)" class="lg" style="font-size:23px">Control</text>
<path d="M187.6,118.6 H199.2 M214.8,118.6 H226.6" stroke="#0000FF" stroke-width="3.2" stroke-linecap="round"/>
<rect x="205.6" y="113.4" width="10.4" height="10.4" fill="#0000FF"/>
<text transform="translate(241.0 125.6) scale(0.95 1)" class="lg" style="font-size:23px">US</text>
<path d="M187.6,151.0 H234.2" stroke="#FF0000" stroke-width="3.2" stroke-linecap="round"/>
<polygon points="210.8,143.0 218.0,155.0 203.6,155.0" fill="#FF0000"/>
<text transform="translate(241.0 158.0) scale(0.95 1)" class="lg" style="font-size:23px">Control</text>
<path d="M187.6,179.5 H199.2 M214.8,179.5 H226.6" stroke="#FF0000" stroke-width="3.2" stroke-linecap="round"/>
<polygon points="210.8,171.5 218.0,183.5 203.6,183.5" fill="#FF0000"/>
<text transform="translate(241.0 186.5) scale(0.95 1)" class="lg" style="font-size:23px">US</text>
<path d="M187.6,211.8 H234.2" stroke="#000000" stroke-width="3.2" stroke-linecap="round"/>
<polygon points="210.8,204.2 218.2,211.8 210.8,219.4 203.4,211.8" fill="#000000"/>
<text transform="translate(241.0 218.8) scale(0.95 1)" class="lg" style="font-size:23px">Control</text>
<path d="M187.6,240.6 H199.2 M214.8,240.6 H226.6" stroke="#000000" stroke-width="3.2" stroke-linecap="round"/>
<polygon points="210.8,233.0 218.2,240.6 210.8,248.2 203.4,240.6" fill="#000000"/>
<text transform="translate(241.0 247.6) scale(0.95 1)" class="lg" style="font-size:23px">US</text>
<text x="115.4" y="97.0" class="lg" style="font-size:21.5px">30<tspan class="deg" dy="-12.3">o</tspan></text>
<text transform="translate(148.0 97.0) scale(0.92 1)" class="lg" style="font-size:21.8px">C</text>
<text x="115.4" y="157.9" class="lg" style="font-size:21.5px">40<tspan class="deg" dy="-12.3">o</tspan></text>
<text transform="translate(148.0 157.9) scale(0.92 1)" class="lg" style="font-size:21.8px">C</text>
<text x="115.4" y="218.8" class="lg" style="font-size:21.5px">50<tspan class="deg" dy="-12.3">o</tspan></text>
<text transform="translate(148.0 218.8) scale(0.92 1)" class="lg" style="font-size:21.8px">C</text>
</svg>
</body></html>
